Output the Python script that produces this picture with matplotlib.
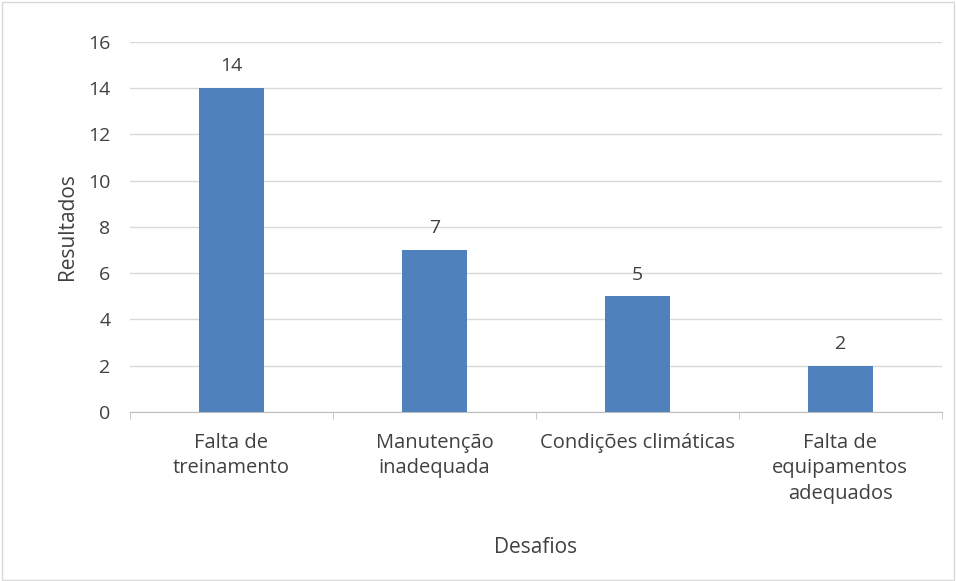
import matplotlib
matplotlib.use("Agg")
import matplotlib.pyplot as plt
from matplotlib.patches import Rectangle

categories = ["Falta de\ntreinamento", "Manutenção\ninadequada",
              "Condições climáticas", "Falta de\nequipamentos\nadequados"]
values = [14, 7, 5, 2]
yticks = [0, 2, 4, 6, 8, 10, 12, 14, 16]

plt.rcParams['font.family'] = ['Open Sans', 'DejaVu Sans']

fig = plt.figure(figsize=(9.56, 5.81), dpi=100)
ax = fig.add_axes([0.136, 0.291, 0.849, 0.637])

x = list(range(len(categories)))
bars = ax.bar(x, values, width=0.32, color="#4F81BD", zorder=3)
for xi, v in zip(x, values):
    ax.text(xi, v + 0.55, str(v), ha="center", va="bottom", fontsize=14, color="#404040")

ax.set_xlim(-0.5, len(categories) - 0.5)
ax.set_ylim(0, 16)
ax.set_yticks(yticks)
ax.yaxis.grid(True, color="#D9D9D9", linewidth=1, zorder=0)
ax.set_xticks(x)
ax.set_xticklabels(categories, fontsize=14.5, color="#404040", va="top", linespacing=1.38)
ax.tick_params(axis="x", length=0, pad=15)
ax.tick_params(axis="y", length=0, labelsize=14, labelcolor="#404040", pad=14)
# category boundary ticks
ax.set_xticks([i - 0.5 for i in range(len(categories) + 1)], minor=True)
ax.tick_params(axis="x", which="minor", length=5, color="#BFBFBF", direction="out")

for s in ["top", "right", "left"]:
    ax.spines[s].set_visible(False)
ax.spines["bottom"].set_color("#BFBFBF")

ax.set_ylabel("Resultados", fontsize=15, color="#404040", labelpad=7)
ax.set_xlabel("Desafios", fontsize=15, color="#404040", labelpad=24)

fig.patches.append(Rectangle((0.002, 0.002), 0.996, 0.995, transform=fig.transFigure,
                             fill=False, edgecolor="#D9D9D9", linewidth=1))

fig.savefig("out.png", dpi=100)
